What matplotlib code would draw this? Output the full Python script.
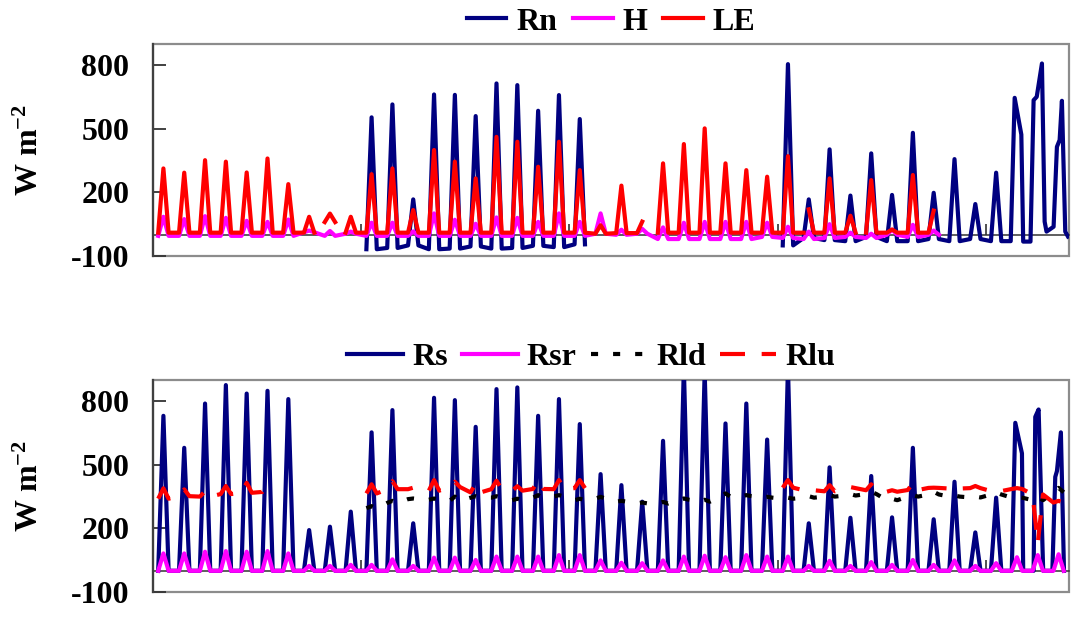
import numpy as np
import matplotlib
matplotlib.use('Agg')
import matplotlib.pyplot as plt
from matplotlib.patches import Rectangle

plt.rcParams['font.family'] = ['Liberation Serif', 'DejaVu Serif']
plt.rcParams['font.weight'] = 'bold'
plt.rcParams['mathtext.fontset'] = 'custom'
plt.rcParams['mathtext.rm'] = 'Liberation Serif:bold'
plt.rcParams['mathtext.bf'] = 'Liberation Serif:bold'
plt.rcParams['mathtext.default'] = 'bf'

N = np.nan
n_days = 44

# ---------------- top panel: energy fluxes (daily night level and midday peak) -------------
rn_peak = [N]*10 + [554, 615, 167, 662, 660, 560, 714, 706, 585, 659, 546] + [N]*9 + \
          [805, 167, 403, 185, 384, 188, 481, 198, 357, 145, 293, 646, 808, 632]
rn_night = [N]*10 + [-68, -62, -50, -68, -65, -55, -65, -62, -52, -58, -45] + [N]*9 + \
           [-50, -15, -25, -30, -10, -30, -30, -20, -30, -20, -30, -30, -30, 20]
rn_spans = [(10.0, 20.9), (29.9, 44.0)]
# days whose course differs from a single midday peak: (fraction of day, value)
rn_custom = {
    41: [(0.20, -30), (0.39, 646), (0.71, 473), (0.80, -32)],
    42: [(0.15, -32), (0.30, 635), (0.45, 651), (0.70, 808), (0.83, 62), (0.92, 15)],
    43: [(0.26, 38), (0.42, 415), (0.55, 447), (0.66, 632), (0.82, 15), (0.95, -8)],
}

h_peak = [85, 74, 88, 80, 66, 61, 72, 20, 18, 15, 57, 57, 16, 101, 71, 52, 82, 80, 61, 101,
          61, 101, 24, 28, 35, 57, 61, 61, 61, 57, 38, 15, 50, 10, 5, 24, 47, 20] + [N]*6
h_night = [-5, -5, -5, -5, -5, -5, -5, 12, -5, 5, -5, -5, -5, -5, -5, -5, -5, -5, -5, -5,
           -5, 5, 0, 5, -20, -20, -20, -20, -20, -10, -15, -20, -15, -10, -15, 0, -10, 0] + [N]*6
h_spans = [(0.0, 37.9)]

le_peak = [313, 293, 352, 345, 294, 360, 239, 85, 100, 85, 286, 313, 117, 400, 345, 266, 462,
           439, 321, 439, 305, 45, 232, 62, 337, 428, 502, 337, 305, 274, 371, 120, 266, 90,
           258, 25, 282, 114] + [N]*6
le_night = [10, 10, 10, 10, 10, 10, 10, 10, 60, 10, 10, 10, 10, 10, 10, 10, 10, 10, 10, 10,
            10, 5, 8, 8, 10, 10, 10, 10, 10, 10, 10, 10, 10, 10, 10, 10, 10, 10] + [N]*6
le_spans = [(0.0, 7.9), (8.2, 8.8), (8.95, 23.6), (23.9, 31.3), (31.4, 33.8), (33.9, 37.6)]

# ---------------- bottom panel: radiation components -------------
rs_peak = [731, 580, 789, 876, 836, 849, 810, 192, 208, 279, 653, 758, 224, 816, 805, 679,
           857, 865, 731, 810, 692, 456, 404, 326, 613, 960, 940, 695, 789, 619, 960, 224,
           488, 250, 447, 252, 580, 243, 420, 181, 345, 698, 761, 653]
rs_night = [0]*n_days
rs_custom = {
    41: [(0.25, 0), (0.42, 698), (0.74, 554), (0.80, 0)],
    42: [(0.30, 0), (0.38, 726), (0.54, 761), (0.76, 0)],
    43: [(0.20, 0), (0.34, 443), (0.42, 470), (0.61, 653), (0.76, 0)],
}

rsr_peak = [82, 82, 90, 93, 90, 93, 82, 23, 23, 28, 28, 54, 23, 62, 62, 51, 67, 67, 67, 74,
            74, 49, 38, 36, 49, 67, 71, 64, 74, 67, 67, 23, 47, 23, 41, 28, 51, 28, 49, 23,
            36, 64, 74, 78]
rsr_night = [0]*n_days

rld_peak = [N]*10 + [305, 330, 341, 341, 350, 352, 352, 340, 357, 357, 340, 349, 330, 322,
                     325, 341, 335, 365, 357, 349, 345, 352, 357, 362, 373, 340, 357, 373,
                     355, 350, 370, 349, 352, 391]
rld_night = [N]*10 + [295, 320, 338, 335, 330, 345, 345, 333, 345, 350, 333, 340, 326, 318,
                      317, 335, 326, 349, 352, 345, 340, 345, 350, 355, 362, 333, 350, 360,
                      350, 346, 360, 345, 333, 370]
rld_spans = [(10.0, 44.0)]

rlu_peak = [389, 384, 375, 400, 415, 404] + [N]*4 + \
           [408, 423, 392, 428, 420, 412, 425, 399, 428, 428, 428] + [N]*9 + \
           [428, 385, 404, 395, 408, 380, 412, 392, 395, 400, 378, 390, 130, 330]
rlu_night = [340, 352, 350, 362, 368, 372] + [N]*4 + \
            [365, 385, 385, 378, 395, 370, 385, 378, 386, 385, 390] + [N]*9 + \
            [392, 380, 375, 390, 380, 373, 381, 391, 388, 390, 376, 386, 360, 322]
rlu_spans = [(0.1, 5.55), (10.0, 20.9), (29.9, 44.0)]

y_ticks = [-100, 200, 500, 800]
y_ticklabels = ['-100', '200', '500', '800']
x_ticks = [10, 20, 30, 40]

FULL = [(0.0, 44.0)]

# sampling of each day: morning (night level), midday peak, evening (night level)
SLOTS = ((6 / 24, 'n'), (12 / 24, 'p'), (18 / 24, 'n'))


def build(night, peak, spans, custom=None):
    custom = custom or {}
    pts = []
    for d in range(len(peak)):
        if d in custom:
            day_pts = custom[d]
        else:
            day_pts = [(off, night[d] if kind == 'n' else peak[d]) for off, kind in SLOTS]
        for off, val in day_pts:
            tt = d + off
            ok = any(a <= tt <= b for a, b in spans)
            pts.append((tt, val if ok else np.nan))
    for a, b in spans:
        pts.append((b + 1e-6, np.nan))
    pts.sort(key=lambda p: p[0])
    t = np.array([p[0] for p in pts])
    v = np.array([p[1] for p in pts], dtype=float)
    return t, v


W, H = 1072, 619
fig = plt.figure(figsize=(W / 100, H / 100), dpi=100)

ax_l, ax_r = 153 / W, 1069 / W
ax1 = fig.add_axes([ax_l, 1 - 256 / H, ax_r - ax_l, 212 / H])
ax2 = fig.add_axes([ax_l, 1 - 592 / H, ax_r - ax_l, 212 / H])

FS = 23
LW = 3.0
NAVY = '#000080'
MAG = '#FF00FF'
RED = '#FF0000'


def style(ax):
    ax.set_xlim(0, n_days)
    ax.set_ylim(-100, 900)
    ax.set_yticks(y_ticks)
    ax.set_yticklabels(y_ticklabels, fontsize=FS, fontweight='bold')
    ax.tick_params(axis='y', direction='in', length=9, width=1.3, pad=17, color='#333333')
    ax.set_xticks(x_ticks)
    ax.set_xticklabels([])
    ax.tick_params(axis='x', direction='in', length=8, width=1.2, color='#333333')
    ax.spines['bottom'].set_position(('data', 0))
    ax.spines['bottom'].set_color('#333333')
    ax.spines['bottom'].set_linewidth(1.1)
    ax.spines['bottom'].set_zorder(1)
    ax.spines['top'].set_visible(False)
    ax.spines['right'].set_visible(False)
    ax.spines['left'].set_color('#404040')
    ax.spines['left'].set_linewidth(1.6)
    ax.add_patch(Rectangle((0, 0), 1, 1, transform=ax.transAxes, fill=False,
                           edgecolor='#8c8c8c', lw=1.6, clip_on=False, zorder=0.5))
    ax.set_facecolor('white')


style(ax1)
style(ax2)

t, v = build(rn_night, rn_peak, rn_spans, rn_custom)
l_rn, = ax1.plot(t, v, color=NAVY, lw=LW, label='Rn', solid_joinstyle='round')
t, v = build(h_night, h_peak, h_spans)
l_h, = ax1.plot(t, v, color=MAG, lw=LW, label='H', solid_joinstyle='round')
t, v = build(le_night, le_peak, le_spans)
l_le, = ax1.plot(t, v, color=RED, lw=LW, label='LE', solid_joinstyle='round')

t, v = build(rs_night, rs_peak, FULL, rs_custom)
l_rs, = ax2.plot(t, v, color=NAVY, lw=LW, label='Rs', solid_joinstyle='round')
t, v = build(rsr_night, rsr_peak, FULL)
l_rsr, = ax2.plot(t, v, color=MAG, lw=LW, label='Rsr', solid_joinstyle='round')
t, v = build(rld_night, rld_peak, rld_spans)
l_rld, = ax2.plot(t, v, color='black', lw=LW, dashes=(1.7, 3.6), label='Rld')
t, v = build(rlu_night, rlu_peak, rlu_spans)
l_rlu, = ax2.plot(t, v, color=RED, lw=LW, dashes=(6, 4), label='Rlu')

prop = {'family': 'Liberation Serif', 'weight': 'bold', 'size': FS}
fig.legend([l_rn, l_h, l_le], ['Rn', 'H', 'LE'], loc='center',
           bbox_to_anchor=(611 / W, 1 - 22 / H), ncol=3, frameon=False, prop=prop,
           handlelength=1.25, handletextpad=0.3, columnspacing=0.5, borderpad=0,
           borderaxespad=0)
fig.legend([l_rs, l_rsr, l_rld, l_rlu], ['Rs', 'Rsr', 'Rld', 'Rlu'], loc='center',
           bbox_to_anchor=(591 / W, 1 - 357 / H), ncol=4, frameon=False, prop=prop,
           handlelength=1.75, handletextpad=0.28, columnspacing=0.45, borderpad=0,
           borderaxespad=0)

for yc in ((44 + 256) / 2, (380 + 592) / 2):
    fig.text(30 / W, 1 - yc / H, 'W m$^{-2}$', rotation=90, ha='center', va='center',
             fontsize=FS, fontweight='bold')

fig.savefig('out.png', dpi=100)
